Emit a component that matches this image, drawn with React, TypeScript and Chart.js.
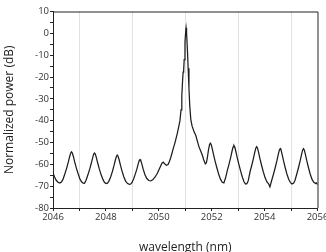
import React, { useEffect, useRef } from "react";
import { Chart, registerables } from "chart.js";

Chart.register(...registerables);

// wavelength (nm) samples, grouped by spectral feature
const wavelength: number[] = [
  2046.0, 2046.06, 2046.12, 2046.19, 2046.26, 2046.32,
  2046.38, 2046.45, 2046.52, 2046.58, 2046.63, 2046.67, 2046.7, 2046.73, 2046.77, 2046.82, 2046.88, 2046.95, 2047.02, 2047.08, 2047.14, 2047.19,
  2047.25, 2047.32, 2047.39, 2047.45, 2047.5, 2047.54, 2047.57, 2047.6, 2047.64, 2047.69, 2047.75, 2047.82, 2047.89, 2047.95, 2048.01, 2048.06,
  2048.11, 2048.18, 2048.25, 2048.31, 2048.36, 2048.4, 2048.43, 2048.46, 2048.5, 2048.55, 2048.61, 2048.68, 2048.75, 2048.82, 2048.89, 2048.94,
  2048.99, 2049.05, 2049.11, 2049.17, 2049.22, 2049.26, 2049.29, 2049.32, 2049.36, 2049.41, 2049.47, 2049.54, 2049.62, 2049.7, 2049.78, 2049.86, 2049.94,
  2050.01, 2050.07, 2050.12, 2050.17, 2050.23, 2050.29, 2050.35, 2050.4,
  2050.45, 2050.5, 2050.55, 2050.6, 2050.65, 2050.7, 2050.75, 2050.8, 2050.84, 2050.87, 2050.9, 2050.92, 2050.94, 2050.96, 2050.99, 2051.02, 2051.03,
  2051.05, 2051.08, 2051.11, 2051.14, 2051.17, 2051.21, 2051.26, 2051.33, 2051.4, 2051.46, 2051.52, 2051.58, 2051.64, 2051.7, 2051.76,
  2051.8, 2051.84, 2051.88, 2051.92, 2051.95, 2051.98, 2052.02, 2052.07, 2052.13, 2052.2, 2052.27, 2052.34, 2052.4, 2052.46,
  2052.52, 2052.59, 2052.66, 2052.72, 2052.77, 2052.81, 2052.84, 2052.87, 2052.91, 2052.96, 2053.02, 2053.09, 2053.16, 2053.22, 2053.28, 2053.33,
  2053.38, 2053.45, 2053.52, 2053.58, 2053.63, 2053.67, 2053.7, 2053.73, 2053.77, 2053.82, 2053.88, 2053.95, 2054.02, 2054.09, 2054.15, 2054.2, 2054.23,
  2054.27, 2054.34, 2054.41, 2054.47, 2054.52, 2054.56, 2054.59, 2054.62, 2054.66, 2054.71, 2054.77, 2054.84, 2054.91, 2054.98, 2055.04, 2055.1,
  2055.15, 2055.22, 2055.29, 2055.35, 2055.4, 2055.44, 2055.47, 2055.5, 2055.54, 2055.59, 2055.65, 2055.72, 2055.79, 2055.86, 2055.93, 2055.97, 2056.0,
];

// normalized power (dB) at each wavelength sample above
const power: number[] = [
  -64.0, -65.8, -67.3, -68.2, -68.6, -68.1,
  -66.8, -64.3, -61.6, -58.9, -56.4, -54.8, -54.3, -54.8, -56.4, -58.9, -61.6, -64.3, -66.8, -68.0, -68.6, -68.7,
  -67.3, -64.8, -62.1, -59.4, -56.9, -55.3, -54.8, -55.3, -56.9, -59.4, -62.1, -64.8, -67.0, -68.3, -68.8, -68.6,
  -67.8, -65.8, -63.1, -60.4, -57.9, -56.3, -55.8, -56.3, -57.9, -60.4, -63.1, -65.8, -67.8, -68.8, -69.2, -69.0,
  -68.3, -66.6, -64.5, -62.2, -59.9, -58.3, -57.8, -58.3, -59.9, -62.2, -64.5, -66.4, -67.4, -67.6, -67.0, -65.8, -64.2,
  -62.4, -60.8, -59.5, -59.0, -59.9, -60.4, -60.1, -58.7,
  -57.0, -54.8, -52.6, -50.6, -48.2, -45.8, -43.0, -40.0, -35.0, -28.5, -21.5, -17.8, -16.8, -12.0, -4.0, 1.5, 2.5,
  0.0, -7.0, -16.0, -25.0, -33.0, -39.5, -42.5, -45.0, -46.8, -49.5, -52.0, -53.8, -55.6, -58.0, -59.8,
  -59.3, -56.6, -53.3, -50.9, -50.3, -50.9, -52.8, -55.6, -58.6, -61.8, -64.8, -67.0, -68.2, -68.5,
  -66.4, -62.9, -59.7, -56.7, -53.9, -52.0, -51.4, -52.0, -53.9, -56.7, -59.7, -62.9, -65.9, -68.0, -69.0, -68.9,
  -67.6, -63.4, -60.2, -57.2, -54.4, -52.5, -51.9, -52.5, -54.4, -57.2, -60.2, -63.4, -66.2, -68.1, -68.9, -70.3, -69.0,
  -67.3, -64.3, -61.1, -58.1, -55.3, -53.4, -52.8, -53.4, -55.3, -58.1, -61.1, -64.3, -66.8, -68.4, -69.0, -68.6,
  -67.3, -64.3, -61.1, -58.1, -55.3, -53.4, -52.8, -53.4, -55.3, -58.1, -61.1, -64.3, -66.8, -68.2, -68.8, -68.5, -69.3,
];

const xTitle = "wavelength (nm)";
const yTitle = "Normalized power (dB)";
const xMin = 2046;
const xMax = 2056;
const yMin = -80;
const yMax = 10;

const frame = {
  id: "frame",
  afterDraw(chart: any) {
    const { ctx, chartArea: a } = chart;
    ctx.save();
    ctx.strokeStyle = "#222";
    ctx.lineWidth = 1;
    ctx.beginPath();
    ctx.moveTo(a.left, a.top + 0.5);
    ctx.lineTo(a.right + 0.5, a.top + 0.5);
    ctx.lineTo(a.right + 0.5, a.bottom);
    ctx.stroke();
    ctx.restore();
  },
};

export default function App() {
  const ref = useRef<HTMLCanvasElement>(null);
  useEffect(() => {
    if (!ref.current) return;
    const font = "'Open Sans', sans-serif";
    const chart = new Chart(ref.current, {
      type: "line",
      data: {
        datasets: [
          {
            data: wavelength.map((x, i) => ({ x, y: power[i] })),
            borderColor: "#1c1c1c",
            borderWidth: 1.25,
            pointRadius: 0,
            tension: 0,
            fill: false,
          },
        ],
      },
      options: {
        animation: false,
        responsive: false,
        events: [],
        layout: { padding: { left: 0, top: 11.5, right: 8.5, bottom: 0 } },
        plugins: { legend: { display: false }, tooltip: { enabled: false } },
        scales: {
          x: {
            type: "linear",
            min: xMin,
            max: xMax,
            afterFit: (s: any) => {
              s.height = 54;
              s.paddingRight = 0;
              s.paddingLeft = 0;
            },
            ticks: {
              stepSize: 1,
              autoSkip: false,
              maxRotation: 0,
              padding: 1,
              color: "#333",
              font: { family: font, size: 9.5 },
              callback: (v: any) => (Number(v) % 2 === 0 ? String(v) : ""),
            },
            grid: {
              color: (c: any) => (c.tick && Math.round(c.tick.value) % 2 !== 0 ? "#e2e2e2" : "rgba(0,0,0,0)"),
              tickColor: "#222",
              tickLength: 3,
              lineWidth: 1,
            },
            border: { color: "#222", width: 1 },
            title: {
              display: true,
              text: xTitle,
              color: "#222",
              font: { family: font, size: 12 },
              padding: { top: 0, bottom: 7 },
            },
          },
          y: {
            type: "linear",
            min: yMin,
            max: yMax,
            afterFit: (s: any) => {
              s.width = 53;
            },
            ticks: {
              stepSize: 5,
              autoSkip: false,
              padding: 1,
              color: "#333",
              font: { family: font, size: 9.5 },
              callback: (v: any) => (Number(v) % 10 === 0 ? String(v) : ""),
            },
            grid: {
              drawOnChartArea: false,
              tickColor: "#222",
              tickLength: 3,
            },
            border: { color: "#222", width: 1 },
            title: {
              display: true,
              text: yTitle,
              color: "#222",
              font: { family: font, size: 12 },
              padding: { top: 2, bottom: 0 },
            },
          },
        },
      },
      plugins: [frame],
    });
    return () => chart.destroy();
  }, []);
  return (
    <div style={{ position: "fixed", left: 0, top: 0, width: 326, height: 252, overflow: "hidden", background: "#fff" }}>
      <canvas ref={ref} width={326} height={262} style={{ display: "block" }} />
    </div>
  );
}
